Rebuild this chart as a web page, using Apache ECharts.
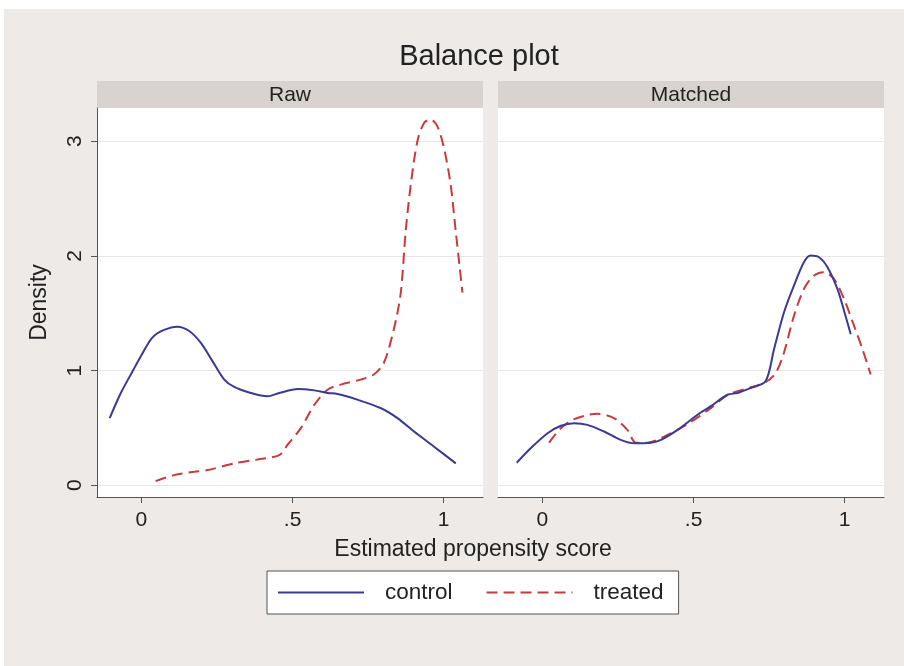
<!DOCTYPE html>
<html><head><meta charset="utf-8">
<script src="https://cdn.jsdelivr.net/npm/echarts@6/dist/echarts.min.js"></script>
<style>html,body{margin:0;padding:0;background:#fff}#c{width:904px;height:666px}</style>
</head><body><div id="c"></div>
<script>
// ---- data ----
const panels = ['Raw', 'Matched'];
const groups = ['control', 'treated'];
const xTicks = [0, 0.5, 1];
const xTickLabels = ['0', '.5', '1'];
const yTicks = [0, 1, 2, 3];
const yTickLabels = ['0', '1', '2', '3'];

const rawControlX = [-0.105,-0.069,-0.030,-0.002,0.036,0.075,0.119,0.158,0.196,0.235,0.274,0.307,0.362,0.417,0.456,0.517,0.572,0.616,0.649,0.714,0.791,0.847,0.902,0.968,1.040];
const rawControlY = [0.585,0.80,0.99,1.125,1.287,1.354,1.383,1.345,1.243,1.082,0.921,0.857,0.804,0.775,0.804,0.839,0.827,0.805,0.795,0.746,0.673,0.585,0.468,0.336,0.190];

const rawTreatedX = [0.047,0.108,0.175,0.219,0.307,0.384,0.456,0.483,0.528,0.572,0.616,0.659,0.725,0.769,0.802,0.835,0.858,0.874,0.891,0.913,0.935,0.957,0.979,1.001,1.023,1.040,1.062];
const rawTreatedY = [0.035,0.088,0.117,0.132,0.190,0.225,0.263,0.351,0.50,0.702,0.833,0.877,0.921,0.965,1.067,1.36,1.68,2.21,2.62,3.0,3.16,3.19,3.13,2.94,2.62,2.21,1.68];

const matchedControlX = [-0.085,-0.039,0.017,0.061,0.105,0.149,0.204,0.259,0.304,0.359,0.392,0.447,0.513,0.556,0.612,0.645,0.689,0.738,0.766,0.799,0.832,0.865,0.887,0.915,0.943,0.976,0.998,1.020];
const matchedControlY = [0.196,0.322,0.453,0.518,0.541,0.526,0.468,0.395,0.365,0.371,0.395,0.482,0.614,0.687,0.789,0.804,0.848,0.906,1.184,1.506,1.740,1.944,2.003,1.988,1.901,1.711,1.520,1.316];

const matchedTreatedX = [0.022,0.061,0.105,0.182,0.237,0.281,0.309,0.348,0.403,0.447,0.490,0.556,0.615,0.683,0.738,0.772,0.799,0.832,0.865,0.898,0.932,0.965,0.998,1.031,1.059,1.086];
const matchedTreatedY = [0.371,0.497,0.576,0.623,0.585,0.482,0.371,0.371,0.424,0.482,0.55,0.67,0.79,0.848,0.898,0.980,1.155,1.476,1.711,1.827,1.857,1.798,1.623,1.389,1.184,0.965];

// ---- build ----
const zip = (xs, ys) => xs.map((x, i) => [x, ys[i]]);
const BLUE = '#3a3a92';
const RED = '#c83a3c';
const FONT = 'Liberation Sans, Arial, sans-serif';
const TXT = '#222';
const AX = '#555';
const GRID_L = [97, 498];
const GRID_T = 108, GRID_W = 386, GRID_H = 389;

const xAxisCfg = (i) => ({
  type: 'value', gridIndex: i, min: -0.147, max: 1.13,
  axisLine: { show: true, onZero: false, lineStyle: { color: AX, width: 1 } },
  axisTick: { show: true, customValues: xTicks, length: 6, lineStyle: { color: AX } },
  axisLabel: { customValues: xTicks, formatter: v => xTickLabels[xTicks.indexOf(v)], fontSize: 21, fontFamily: FONT, color: TXT, margin: 13 },
  splitLine: { show: false }
});
const yAxisCfg = (i) => ({
  type: 'value', gridIndex: i, min: -0.103, max: 3.29,
  name: i === 0 ? 'Density' : '', nameLocation: 'middle', nameGap: 46,
  nameTextStyle: { fontSize: 23, fontFamily: FONT, color: TXT },
  axisLine: { show: i === 0, onZero: false, lineStyle: { color: AX, width: 1 } },
  axisTick: { show: i === 0, customValues: yTicks, length: 6, lineStyle: { color: AX } },
  axisLabel: { show: i === 0, customValues: yTicks, rotate: 90, formatter: v => yTickLabels[yTicks.indexOf(v)], fontSize: 21, fontFamily: FONT, color: TXT, margin: 11 },
  splitLine: { show: true, lineStyle: { color: '#e6e6e6', width: 1 } }
});
const lineSeries = (name, gi, xs, ys) => ({
  name, type: 'line', xAxisIndex: gi, yAxisIndex: gi, data: zip(xs, ys),
  smooth: 0.3, symbol: 'none', showSymbol: false,
  lineStyle: { color: name === 'control' ? BLUE : RED, width: 2, type: name === 'control' ? 'solid' : [11, 6] },
  itemStyle: { color: name === 'control' ? BLUE : RED },
  z: name === 'control' ? 3 : 2
});

const graphics = [
  { type: 'rect', shape: { x: 0, y: 0, width: 904, height: 9 }, style: { fill: '#fff' }, silent: true },
  { type: 'rect', shape: { x: 0, y: 0, width: 4, height: 666 }, style: { fill: '#fff' }, silent: true }
];
panels.forEach((p, i) => {
  graphics.push({ type: 'rect', shape: { x: GRID_L[i], y: 81, width: GRID_W, height: 27 }, style: { fill: '#d8d3d1' }, silent: true });
  graphics.push({ type: 'text', x: GRID_L[i] + GRID_W / 2, y: 95, style: { text: p, fontSize: 21, fontFamily: FONT, fill: TXT, align: 'center', verticalAlign: 'middle' }, silent: true });
});
graphics.push({ type: 'text', x: 473, y: 550, style: { text: 'Estimated propensity score', fontSize: 23, fontFamily: FONT, fill: TXT, align: 'center', verticalAlign: 'middle' }, silent: true });

const option = {
  backgroundColor: '#eeeae8',
  animation: false,
  title: { text: 'Balance plot', left: 474, top: 37, textAlign: 'center', textStyle: { fontSize: 29, fontWeight: 'normal', fontFamily: FONT, color: TXT } },
  grid: panels.map((p, i) => ({ left: GRID_L[i], top: GRID_T, width: GRID_W, height: GRID_H, show: true, backgroundColor: '#fff', borderWidth: 0 })),
  xAxis: panels.map((p, i) => xAxisCfg(i)),
  yAxis: panels.map((p, i) => yAxisCfg(i)),
  legend: {
    data: groups, left: 267, top: 571, orient: 'horizontal',
    itemWidth: 86, itemHeight: 14, itemGap: 33, padding: [10, 15, 10, 10],
    backgroundColor: '#fff', borderColor: '#555', borderWidth: 1, borderRadius: 0,
    itemStyle: { opacity: 0 },
    textStyle: { fontSize: 22.5, fontFamily: FONT, color: TXT, padding: [0, 0, 0, 16] }
  },
  graphic: graphics,
  series: [
    lineSeries('control', 0, rawControlX, rawControlY),
    lineSeries('treated', 0, rawTreatedX, rawTreatedY),
    lineSeries('control', 1, matchedControlX, matchedControlY),
    lineSeries('treated', 1, matchedTreatedX, matchedTreatedY)
  ]
};
echarts.init(document.getElementById('c')).setOption(option);
</script></body></html>
